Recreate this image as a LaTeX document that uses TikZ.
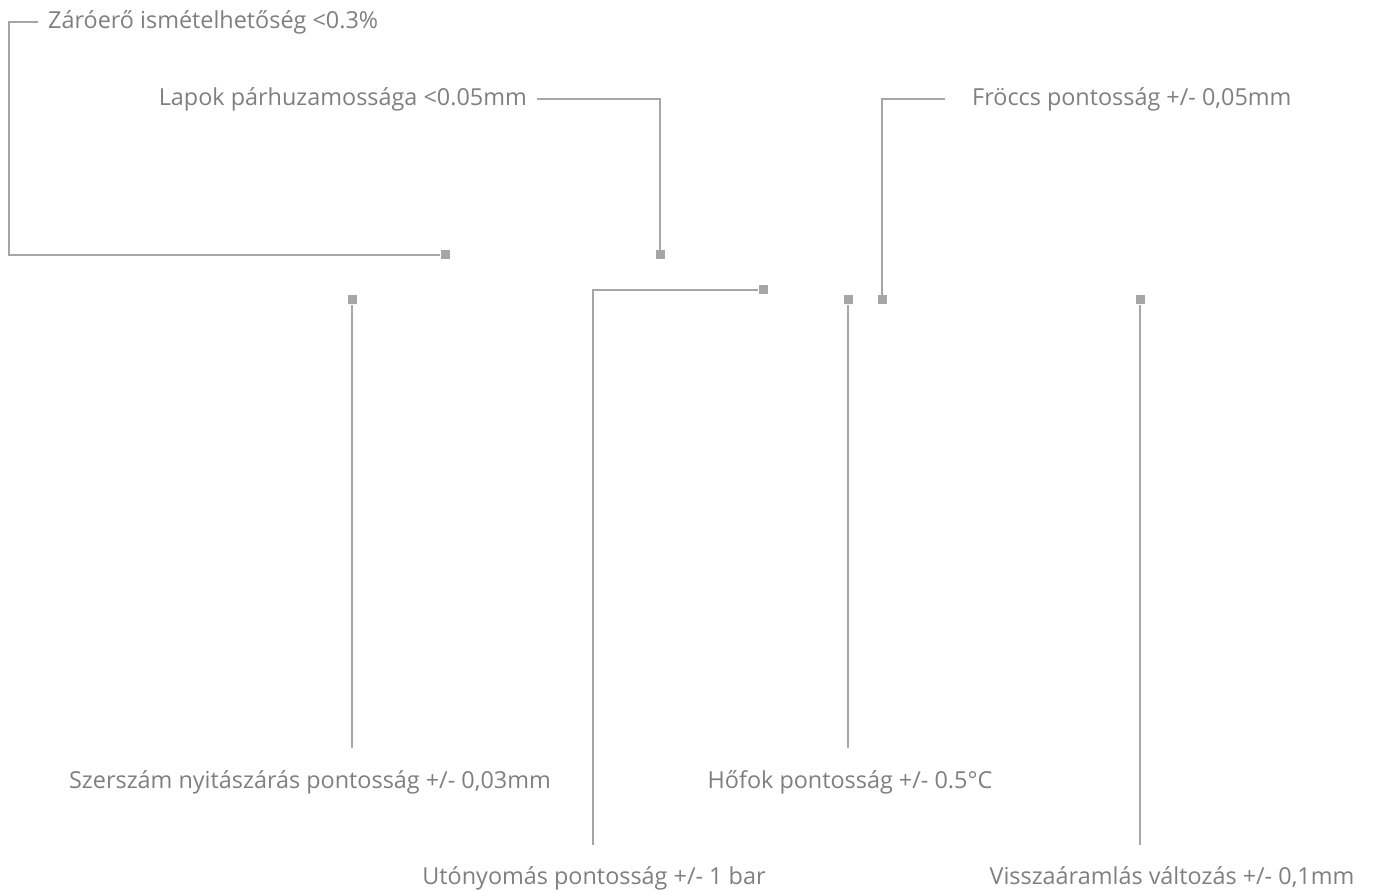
\documentclass[tikz,border=0pt]{standalone}
\usepackage{fontspec}
\setmainfont{Open Sans}
\usetikzlibrary{positioning}
\definecolor{labelgray}{HTML}{7F7F7F}
\definecolor{linegray}{HTML}{A6A6A6}

\begin{document}
\begin{tikzpicture}[x=1pt,y=-1pt,
	pin/.style={fill=linegray,minimum size=9pt,inner sep=0pt},
	lbl/.style={text=labelgray,font=\fontsize{23.4}{26}\selectfont,inner sep=0pt},
	lead/.style={draw=linegray,line width=1.6pt}]
	\useasboundingbox (0,0) rectangle (1375,890);
	% measuring points
	\node[pin] (p1) at (445,255) {};
	\node[pin] (p2) at (660,255) {};
	\node[pin] (p3) at (882,300) {};
	\node[pin] (p4) at (352,300) {};
	\node[pin] (p5) at (763,290) {};
	\node[pin] (p6) at (848,300) {};
	\node[pin] (p7) at (1140,300) {};
	% texts
	\node[lbl,anchor=base west] (l1) at (48,29) {Záróerő ismételhetőség <0.3\%};
	\node[lbl,anchor=base east] (l2) at (527,106) {Lapok párhuzamossága <0.05mm};
	\node[lbl,anchor=base west] (l3) at (972,106) {Fröccs pontosság +/- 0,05mm};
	\node[lbl,anchor=base] (l4) at (310,788) {Szerszám nyitászárás pontosság +/- 0,03mm};
	\node[lbl,anchor=base] (l5) at (594,884) {Utónyomás pontosság +/- 1 bar};
	\node[lbl,anchor=base] (l6) at (850,788) {Hőfok pontosság +/- 0.5°C};
	\node[lbl,anchor=base] (l7) at (1172,884) {Visszaáramlás változás +/- 0,1mm};
	% bends and line ends
	\coordinate (b1) at (9,22);
	\coordinate (e1) at (38,22);
	\coordinate (e2) at (537,99);
	\coordinate (e3) at (945,99);
	\coordinate (e4) at (352,748);
	\coordinate (e5) at (593,845);
	\coordinate (e6) at (848,748);
	\coordinate (e7) at (1140,845);
	\draw[lead] (p1) -| (b1) -- (e1);
	\draw[lead] (p2) |- (e2);
	\draw[lead] (p3) |- (e3);
	\draw[lead] (p4) -- (e4);
	\draw[lead] (p5) -| (e5);
	\draw[lead] (p6) -- (e6);
	\draw[lead] (p7) -- (e7);
\end{tikzpicture}
\end{document}
